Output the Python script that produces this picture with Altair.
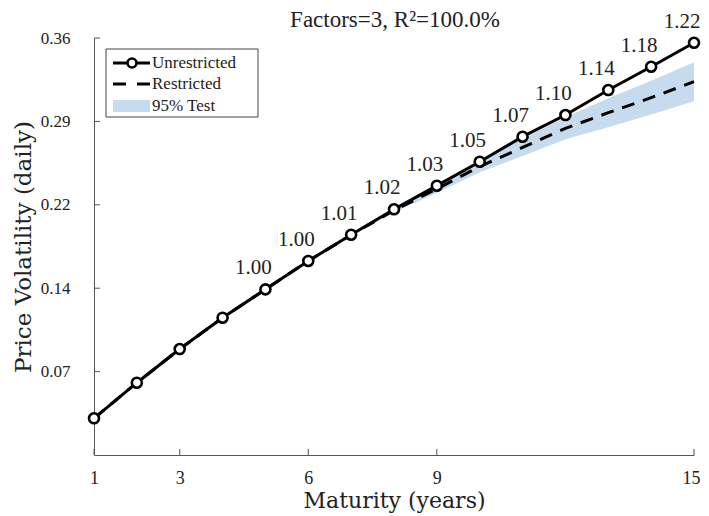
import altair as alt
import pandas as pd

# ---- data ----
maturity = list(range(1, 16))
unrestricted = [0.0317, 0.0624, 0.0915, 0.1185, 0.1430, 0.1675, 0.1902, 0.2121,
                0.2325, 0.2532, 0.2748, 0.2935, 0.3151, 0.3352, 0.3559]
restricted = [0.0317, 0.0624, 0.0915, 0.1185, 0.1430, 0.1675, 0.1900, 0.2112,
              0.2297, 0.2490, 0.2655, 0.2820, 0.2955, 0.3085, 0.3223]
band_maturity = [7, 8, 9, 10, 11, 12, 13, 14, 15]
band_lo = [0.1893, 0.2095, 0.2262, 0.2440, 0.2582, 0.2725, 0.2830, 0.2940, 0.3055]
band_hi = [0.1908, 0.2133, 0.2330, 0.2540, 0.2730, 0.2915, 0.3080, 0.3230, 0.3390]
label_maturity = [5, 6, 7, 8, 9, 10, 11, 12, 13, 14, 15]
label_text = ["1.00", "1.00", "1.01", "1.02", "1.03", "1.05", "1.07",
              "1.10", "1.14", "1.18", "1.22"]
x_ticks = [1, 3, 6, 9, 15]
y_ticks = [0.072, 0.144, 0.216, 0.288, 0.36]
legend_labels = ["Unrestricted", "Restricted", "95% Test"]
title_text = "Factors=3, R²=100.0%"

FONT = "Liberation Serif"
TFONT = "DejaVu Serif"
BLUE = "#c6dcee"
W, H = 600, 417

main = pd.DataFrame({"m": maturity, "u": unrestricted, "r": restricted})
band = pd.DataFrame({"m": band_maturity, "lo": band_lo, "hi": band_hi})
lab_u = [unrestricted[maturity.index(m)] for m in label_maturity]
labels = pd.DataFrame({"m": label_maturity, "u": lab_u, "t": label_text})
xt = pd.DataFrame({"m": x_ticks})
yt = pd.DataFrame({"v": y_ticks})
tt = pd.DataFrame({"t": [title_text]})

xs = alt.Scale(domain=[1, 15], nice=False, zero=False)
ys = alt.Scale(domain=[0, 0.36], nice=False, zero=True)

X = alt.X("m:Q", scale=xs,
          axis=alt.Axis(values=x_ticks, title="Maturity (years)", ticks=False,
                        grid=False, labelPadding=14, titlePadding=3,
                        labelFlush=False,
                        labelOffset={"condition": {"test": f"datum.value == {x_ticks[-1]}",
                                                   "value": -3}, "value": 0},
                        domainColor="#555555", labelColor="#222222",
                        labelFont=FONT, labelFontSize=18, titleFont=TFONT,
                        titleFontSize=22, titleFontWeight="normal",
                        titleColor="#222222"))
Y = alt.Y("u:Q", scale=ys,
          axis=alt.Axis(values=y_ticks, format=".2f", title="Price Volatility (daily)",
                        ticks=False, grid=False, labelPadding=24, titlePadding=5,
                        labelFlush=False,
                        domainColor="#555555", labelColor="#222222",
                        labelFont=FONT, labelFontSize=17, titleFont=TFONT,
                        titleFontSize=23, titleFontWeight="normal",
                        titleColor="#222222"))

band_layer = alt.Chart(band).mark_area(color=BLUE, opacity=1).encode(
    x=alt.X("m:Q", scale=xs), y=alt.Y("lo:Q", scale=ys), y2="hi:Q")

restr_layer = alt.Chart(main).mark_line(color="black", strokeWidth=3,
                                       strokeDash=[13, 9]).encode(
    x=alt.X("m:Q", scale=xs), y=alt.Y("r:Q", scale=ys))

unr_line = alt.Chart(main).mark_line(color="black", strokeWidth=3).encode(x=X, y=Y)

unr_pts = alt.Chart(main).mark_point(shape="circle", filled=True, fill="white",
                                     stroke="black", strokeWidth=2.6, size=100,
                                     opacity=1).encode(
    x=alt.X("m:Q", scale=xs), y=alt.Y("u:Q", scale=ys))

text_layer = alt.Chart(labels).mark_text(font=FONT, fontSize=21, color="#222222",
                                         dx=-12, dy=-21, baseline="middle",
                                         align="center").encode(
    x=alt.X("m:Q", scale=xs), y=alt.Y("u:Q", scale=ys), text="t:N")

title_layer = alt.Chart(tt).mark_text(font=FONT, fontSize=23, color="#222222",
                                      baseline="middle", align="center").encode(
    x=alt.value(W / 2 + 1), y=alt.value(-18), text="t:N")

xtick_layer = alt.Chart(xt).mark_rule(color="#555555", strokeWidth=1).encode(
    x=alt.X("m:Q", scale=xs), y=alt.value(H), y2=alt.value(H - 6))
ytick_layer = alt.Chart(yt).mark_rule(color="#555555", strokeWidth=1).encode(
    y=alt.Y("v:Q", scale=ys), x=alt.value(0), x2=alt.value(6))

# ---- legend ----
ld = [pd.DataFrame({"t": [s]}) for s in legend_labels]
leg_box = alt.Chart(ld[0]).mark_rect(fill="white", stroke="#444444",
                                     strokeWidth=1).encode(
    x=alt.value(12), x2=alt.value(164), y=alt.value(11), y2=alt.value(79))
leg_l1 = alt.Chart(ld[0]).mark_rule(color="black", strokeWidth=3).encode(
    x=alt.value(19), x2=alt.value(56), y=alt.value(25))
leg_p1 = alt.Chart(ld[0]).mark_point(shape="circle", filled=True, fill="white",
                                     stroke="black", strokeWidth=2.6, size=80,
                                     opacity=1).encode(
    x=alt.value(38), y=alt.value(25))
leg_l2 = alt.Chart(ld[1]).mark_rule(color="black", strokeWidth=3,
                                    strokeDash=[13, 11]).encode(
    x=alt.value(19), x2=alt.value(56), y=alt.value(46))
leg_r3 = alt.Chart(ld[2]).mark_rect(fill=BLUE).encode(
    x=alt.value(19), x2=alt.value(56), y=alt.value(62), y2=alt.value(74))
leg_texts = [
    alt.Chart(ld[i]).mark_text(font=FONT, fontSize=17, color="#222222",
                               align="left", baseline="middle").encode(
        x=alt.value(58), y=alt.value(yy), text="t:N")
    for i, yy in enumerate([25, 46, 68])
]

chart = alt.layer(
    band_layer, restr_layer, unr_line, unr_pts, text_layer, title_layer,
    xtick_layer, ytick_layer,
    leg_box, leg_l1, leg_p1, leg_l2, leg_r3, *leg_texts
).properties(
    width=W, height=H,
    autosize=alt.AutoSizeParams(type="none"),
    padding={"left": 86, "top": 30, "right": 7, "bottom": 58},
).configure_view(stroke=None)

chart.save("out.html", embed_options={"renderer": "svg", "actions": False})
